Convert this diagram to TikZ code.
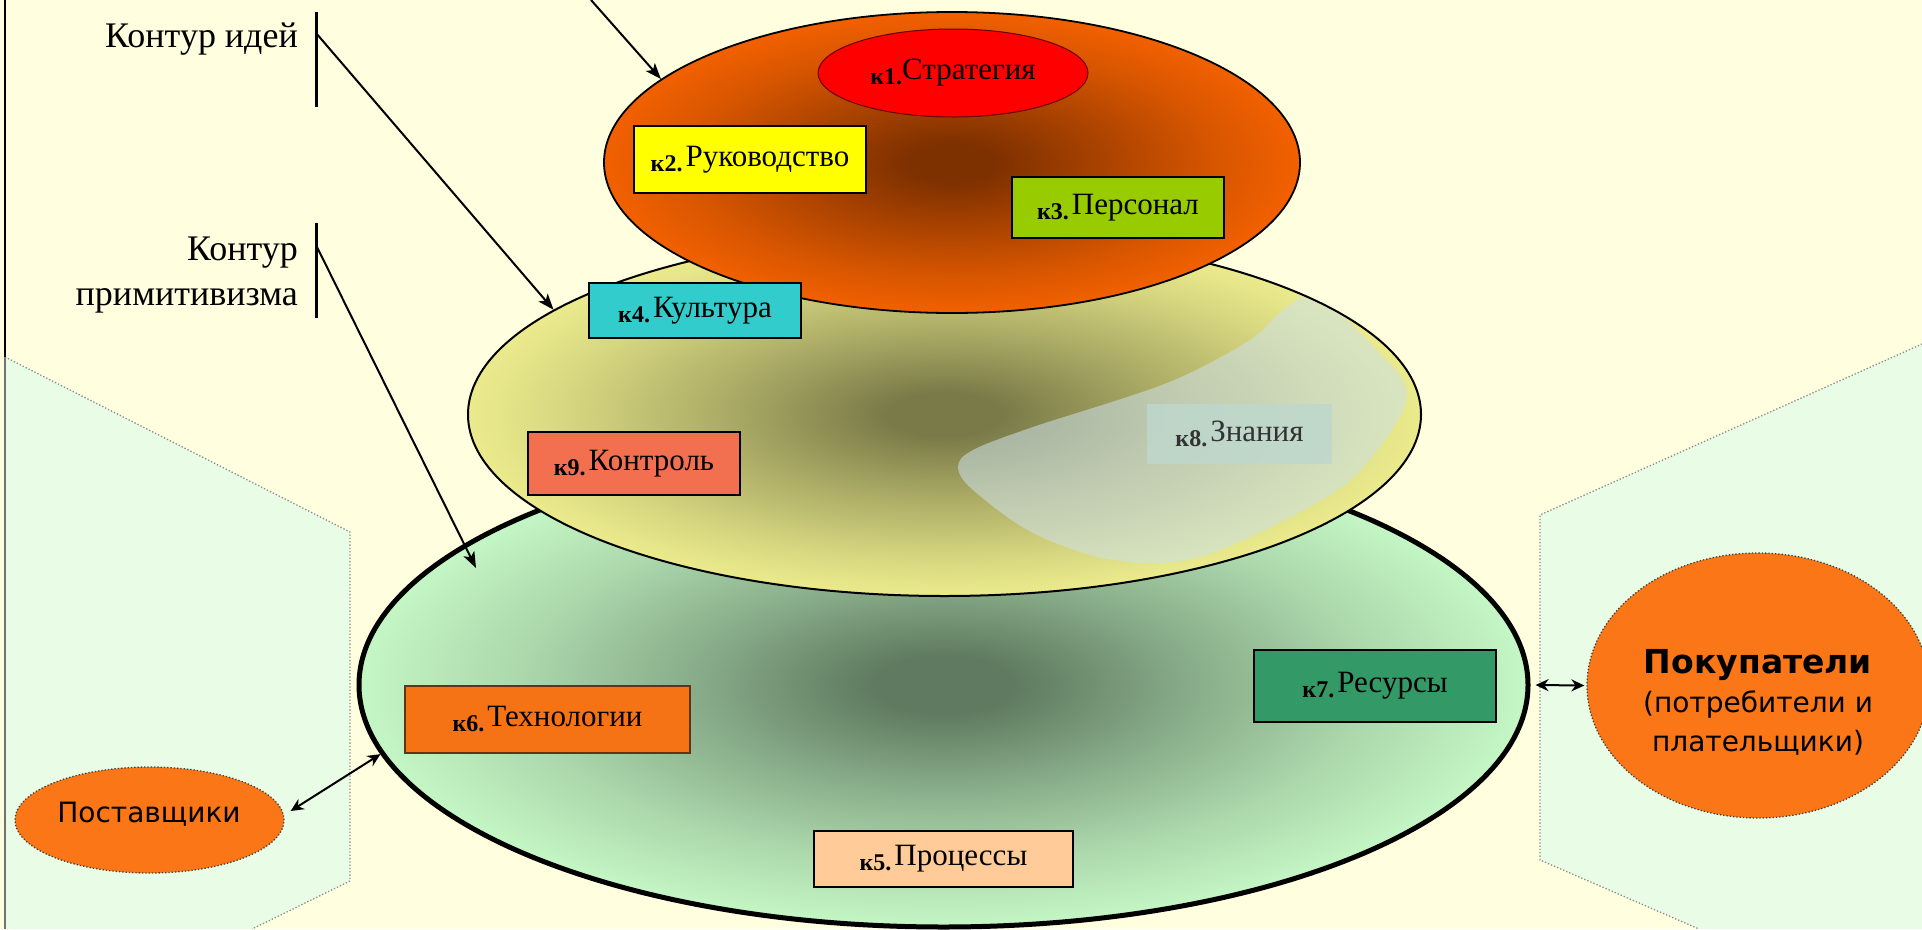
\documentclass[tikz,border=0pt]{standalone}
\usepackage{fontspec}
\setmainfont{Liberation Serif}
\newfontfamily\dejasans{DejaVu Sans}
\usetikzlibrary{shapes.geometric,arrows.meta}

\definecolor{bgc}{RGB}{255,254,222}
\definecolor{panelc}{RGB}{232,252,230}
\definecolor{topOut}{RGB}{255,102,0}
\definecolor{topIn}{RGB}{125,48,0}
\colorlet{topA}{topIn!65!topOut}
\colorlet{topB}{topIn!30!topOut}
\definecolor{yelOut}{RGB}{255,255,153}
\definecolor{yelIn}{RGB}{122,122,72}
\colorlet{yelA}{yelIn!65!yelOut}
\colorlet{yelB}{yelIn!30!yelOut}
\definecolor{grnOut}{RGB}{204,255,204}
\definecolor{grnIn}{RGB}{95,122,96}
\colorlet{grnA}{grnIn!65!grnOut}
\colorlet{grnB}{grnIn!30!grnOut}
\definecolor{orangec}{RGB}{250,118,22}
\definecolor{strat}{RGB}{255,0,0}
\definecolor{rukov}{RGB}{255,255,0}
\definecolor{pers}{RGB}{153,204,0}
\definecolor{kult}{RGB}{51,204,204}
\definecolor{kontr}{RGB}{242,112,80}
\definecolor{znan}{RGB}{190,216,205}
\definecolor{tech}{RGB}{245,115,20}
\definecolor{techb}{RGB}{100,50,20}
\definecolor{resur}{RGB}{51,153,102}
\definecolor{proc}{RGB}{255,204,153}
\definecolor{blobc}{RGB}{205,225,235}

\pgfdeclareradialshading{shTop}{\pgfpoint{0bp}{0bp}}{color(0bp)=(topIn); color(3bp)=(topIn); color(11bp)=(topA); color(19bp)=(topB); color(28bp)=(topOut); color(50bp)=(topOut)}
\pgfdeclareradialshading{shYel}{\pgfpoint{0bp}{0bp}}{color(0bp)=(yelIn); color(3bp)=(yelIn); color(11bp)=(yelA); color(20bp)=(yelB); color(30bp)=(yelOut); color(50bp)=(yelOut)}
\pgfdeclareradialshading{shGrn}{\pgfpoint{0bp}{0bp}}{color(0bp)=(grnIn); color(3bp)=(grnIn); color(10bp)=(grnA); color(18bp)=(grnB); color(27bp)=(grnOut); color(50bp)=(grnOut)}

\newcommand\kk[2]{\raisebox{-5pt}{\fontsize{24}{24}\selectfont\bfseries #1}#2}

\tikzset{
  kbox/.style={draw, line width=2.5pt, inner sep=0pt, font=\fontsize{31}{36}\selectfont},
  bigell/.style={ellipse, draw, inner sep=0pt},
  outerell/.style={ellipse, fill=orangec, draw=black!75, dotted, line width=1.3pt, inner sep=0pt},
  paneledge/.style={draw=black!45, dotted, line width=1.3pt},
  bar/.style={line width=3pt},
  lbl/.style={font=\fontsize{36}{45}\selectfont, inner sep=0pt},
  arr/.style={line width=2pt, -{Stealth[length=16pt,width=12pt,inset=4pt]}},
  dbl/.style={line width=2pt, {Stealth[length=13pt,width=12pt]}-{Stealth[length=13pt,width=12pt]}}
}

\begin{document}
\begin{tikzpicture}[x=1pt,y=-1pt]
\useasboundingbox (0,0) rectangle (1922,929);
\clip (0,0) rectangle (1922,929);
\fill[bgc] (0,0) rectangle (1922,929);

% side panels
\fill[panelc] (5,357) -- (350,532) -- (350,881) -- (252,929) -- (5,929) -- cycle;
\draw[paneledge] (5,357) -- (350,532) -- (350,881) -- (252,929);
\fill[panelc] (1540,515) -- (1922,344) -- (1922,929) -- (1699,929) -- (1540,860) -- cycle;
\draw[paneledge] (1922,344) -- (1540,515) -- (1540,860) -- (1699,929);
\draw[line width=2.5pt] (5,0) -- (5,357);
\draw[line width=2.5pt, black!55] (5,357) -- (5,929);

% contours
\node[bigell, line width=5pt, shading=shGrn, minimum width=1169pt, minimum height=484pt] (grn) at (943.5,685) {};
\node[bigell, line width=2pt, shading=shYel, minimum width=953pt, minimum height=363pt] (yel) at (944.5,414.5) {};
\begin{scope}
\clip (944.5,414.5) ellipse [x radius=475pt, y radius=180pt];
\fill[blobc, opacity=0.55] plot[smooth cycle, tension=0.55] coordinates {(1317,297) (1377,350) (1407,397) (1367,463) (1317,503) (1200,557) (1113,560) (1033,533) (973,490) (958,467) (973,450) (1033,427) (1167,383) (1250,340) (1283,310)};
\end{scope}
\node[bigell, line width=1.8pt, shading=shTop, minimum width=696pt, minimum height=301pt] (top) at (952,162.5) {};

% elements
\node[ellipse, fill=strat, draw=black!60!red, line width=1pt, inner sep=0pt, minimum width=270pt, minimum height=88pt, font=\fontsize{31}{36}\selectfont] (k1) at (953,73) {\kk{к1.}{Стратегия}};
\node[kbox, fill=rukov, minimum width=232pt, minimum height=67pt] (k2) at (750,159.5) {\kk{к2.}{\hspace{3pt}Руководство}};
\node[kbox, fill=pers, minimum width=212pt, minimum height=61pt] (k3) at (1118,207.5) {\kk{к3.}{\hspace{3pt}Персонал}};
\node[kbox, fill=kult, minimum width=212pt, minimum height=55pt] (k4) at (695,310.5) {\kk{к4.}{\hspace{3pt}Культура}};
\node[kbox, fill=kontr, minimum width=212pt, minimum height=63pt] (k9) at (634,463.5) {\kk{к9.}{\hspace{3pt}Контроль}};
\node[kbox, draw=none, fill=znan, fill opacity=0.85, text opacity=1, text=black!80, minimum width=185pt, minimum height=60pt] (k8) at (1239.5,434) {\kk{к8.}{\hspace{3pt}Знания}};
\node[kbox, draw=techb, fill=tech, minimum width=285pt, minimum height=67pt] (k6) at (547.5,719.5) {\kk{к6.}{\hspace{3pt}Технологии}};
\node[kbox, fill=resur, minimum width=242pt, minimum height=72pt] (k7) at (1375,686) {\kk{к7.}{\hspace{3pt}Ресурсы}};
\node[kbox, fill=proc, minimum width=259pt, minimum height=56pt] (k5) at (943.5,859) {\kk{к5.}{\hspace{3pt}Процессы}};

% outside actors
\node[outerell, minimum width=269pt, minimum height=106pt] (post) at (149.5,820) {};
\node[font=\dejasans\fontsize{28}{34}\selectfont, inner sep=0pt, anchor=base] (postt) at (149,822) {Поставщики};
\node[outerell, minimum width=342pt, minimum height=265pt] (pok) at (1758,685.5) {};
\node[align=center, inner sep=0pt, font=\dejasans\fontsize{28}{39}\selectfont] (pokt) at (1758,702) {{\bfseries\fontsize{33}{39}\selectfont Покупатели}\\(потребители и\\плательщики)};

% labels
\node[lbl, anchor=base east] (lid) at (298,47) {Контур идей};
\node[lbl, anchor=north east, align=right] (lpr) at (298,237) {Контур\\примитивизма};
\draw[bar] (316,12) -- (316,107);
\draw[bar] (316,223) -- (316,318);

\coordinate (s1) at (591,0);
\coordinate (s2) at (316,33);
\coordinate (s3) at (316,245);
\coordinate (e3) at (476,568);
\draw[arr] (s1) -- (top.164);
\draw[arr] (s2) -- (yel.165);
\draw[arr] (s3) -- (e3);
\draw[dbl] ([xshift=6pt,yshift=9pt]post.east) -- (grn.187);
\draw[dbl] ([xshift=5pt]grn.east) -- ([xshift=-2pt]pok.west);
\end{tikzpicture}
\end{document}
